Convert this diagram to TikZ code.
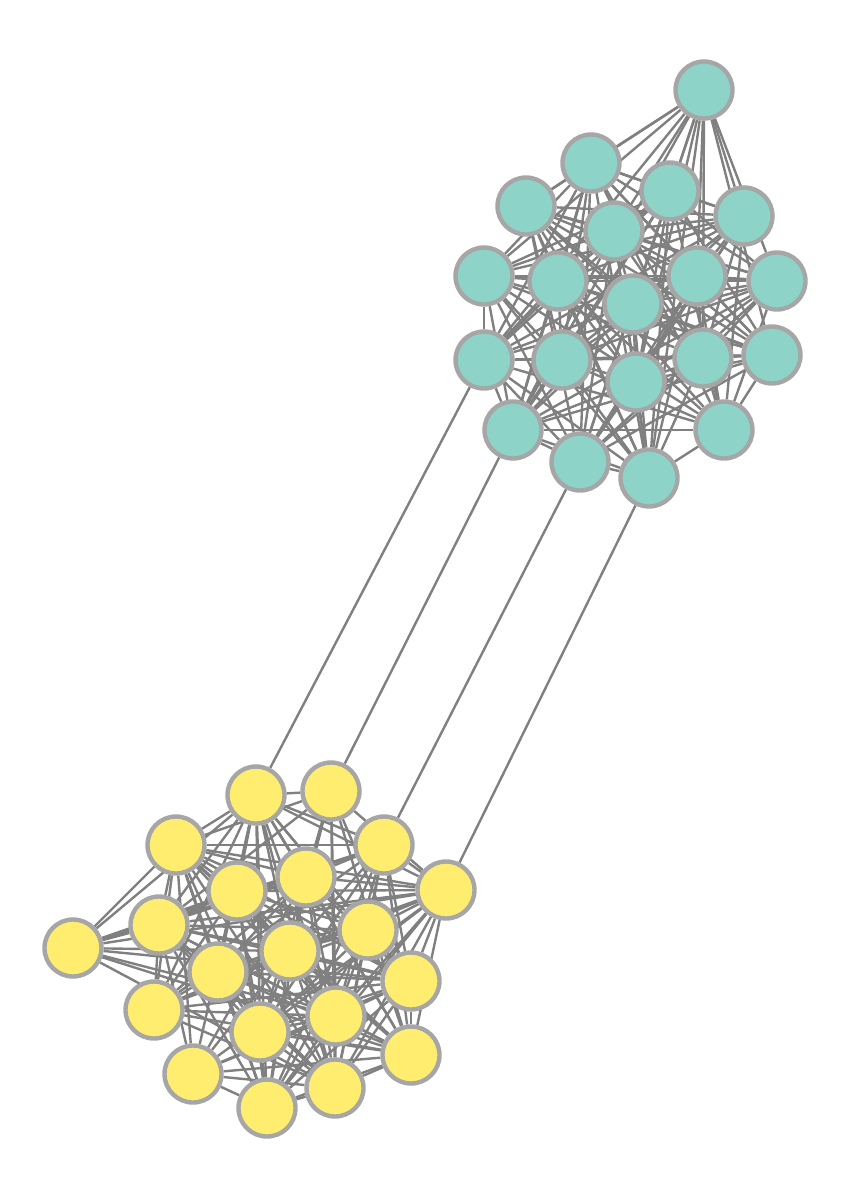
\documentclass[tikz,border=0pt]{standalone}
\usetikzlibrary{backgrounds}
\definecolor{tealfill}{HTML}{8DD3C7}
\definecolor{yelfill}{HTML}{FFED6F}
\definecolor{nodeborder}{HTML}{A6A6A6}
\definecolor{edgecol}{HTML}{808080}
\begin{document}
\begin{tikzpicture}[x=0.5pt,y=-0.5pt,
  tnode/.style={circle,draw=nodeborder,fill=tealfill,line width=2.2pt,minimum size=28.5pt,inner sep=0pt},
  ynode/.style={circle,draw=nodeborder,fill=yelfill,line width=2.2pt,minimum size=28.5pt,inner sep=0pt},
  edge/.style={draw=edgecol,line width=1.2pt}]
\useasboundingbox (0,0) rectangle (852,1200);
\foreach \n/\x/\y in {1/704/90,2/591/163,3/670/191,4/526/206,5/744/216,6/614/231,7/484/276,8/558/281,9/697/276,10/777/281,11/633/304,12/484/360,13/562/360,14/703/358,15/772/355,16/636/382,17/513/430,18/724/430,19/580/462,20/649/478}
  \node[tnode] (t\n) at (\x,\y) {};
\foreach \n/\x/\y in {1/256/795,2/331/791,3/176/845,4/384/845,5/306/877,6/237/891,7/446/890,8/73/948,9/159/925,10/368/930,11/290/951,12/218/972,13/411/981,14/154/1010,15/336/1016,16/260/1032,17/411/1055,18/193/1074,19/335/1088,20/267/1108}
  \node[ynode] (y\n) at (\x,\y) {};
\begin{scope}[on background layer]
\foreach \i in {1,...,19}{
  \pgfmathtruncatemacro\a{\i+1}
  \foreach \j in {\a,...,20}{
    \pgfmathtruncatemacro\r{mod(\i*7+\j*11,5)}
    \ifnum\r>0 \draw[edge] (t\i) -- (t\j);\fi
    \pgfmathtruncatemacro\s{mod(\i*\j+3*\i+\j,6)}
    \ifnum\s>0 \draw[edge] (y\i) -- (y\j);\fi
  }
}
\draw[edge] (y1) -- (t12);
\draw[edge] (y2) -- (t17);
\draw[edge] (y4) -- (t19);
\draw[edge] (y7) -- (t20);
\end{scope}
\end{tikzpicture}
\end{document}
